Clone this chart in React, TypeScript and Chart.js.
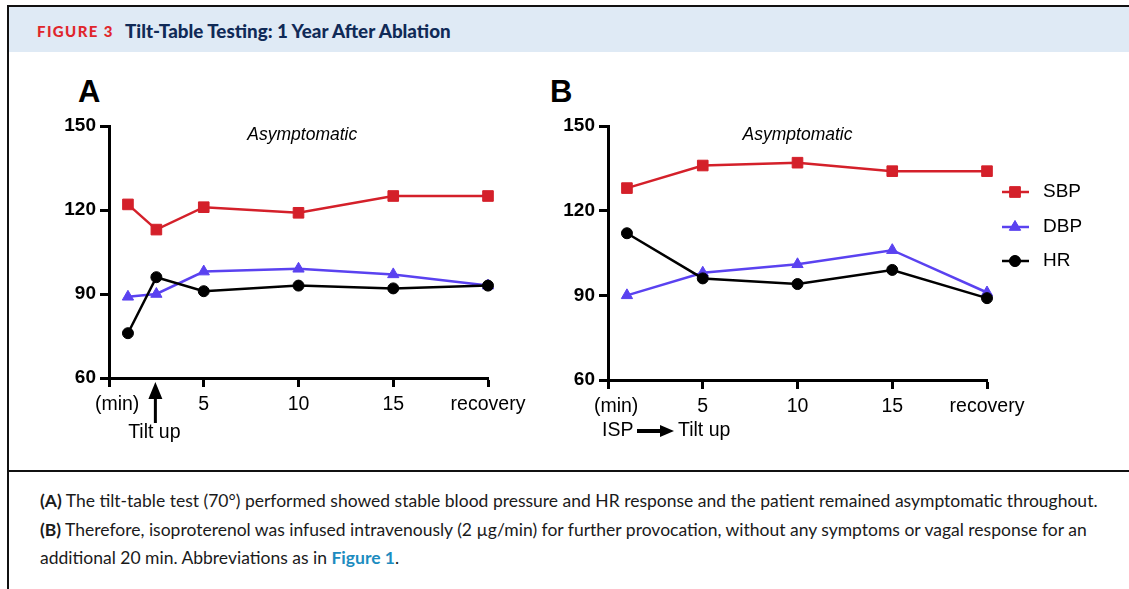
import React, { useEffect, useRef } from "react";
import { Chart, registerables } from "chart.js";
import { drawPoint } from "chart.js/helpers";

Chart.register(...registerables);

// ---------- data ----------
const minutesA = [1, 2.5, 5, 10, 15, 20];
const sbpA = [122, 113, 121, 119, 125, 125];
const dbpA = [89, 90, 98, 99, 97, 93];
const hrA = [76, 96, 91, 93, 92, 93];

const minutesB = [1, 5, 10, 15, 20];
const sbpB = [128, 136, 137, 134, 134];
const dbpB = [90, 98, 101, 106, 91];
const hrB = [112, 96, 94, 99, 89];

const xTickValues = [0, 5, 10, 15, 20];
const xTickLabels = ["   (min)", "5", "10", "15", "recovery"];
const yTickValues = [60, 90, 120, 150];

const seriesNames = ["SBP", "DBP", "HR"];
const seriesColors = ["#d4202a", "#5a42f0", "#000000"];
const pointStyles = ["rect", "triangle", "circle"];
const pointRadii = [7.5, 6.5, 5.5];

const FONT = "'Liberation Sans', Arial, Helvetica, sans-serif";
const CAPTION_FONT = "Lato, 'Open Sans', sans-serif";

function makeDatasets(xs: number[], series: number[][]) {
  return series.map((vals, i) => ({
    label: seriesNames[i],
    data: xs.map((x, j) => ({ x, y: vals[j] })),
    borderColor: seriesColors[i],
    backgroundColor: seriesColors[i],
    borderWidth: 2.5,
    pointStyle: pointStyles[i],
    pointRadius: pointRadii[i],
    pointBorderWidth: 1,
    clip: false,
    order: 2 - i,
    tension: 0,
  }));
}

function makeScales(yWidth: number, xHeight: number) {
  return {
    x: {
      type: "linear",
      min: 0,
      max: 20,
      afterBuildTicks: (s: any) => {
        s.ticks = xTickValues.map((v) => ({ value: v }));
      },
      ticks: {
        callback: (v: any) => xTickLabels[xTickValues.indexOf(Number(v))],
        color: "#000",
        font: { family: FONT, size: 19.5 },
        padding: 6,
        maxRotation: 0,
        autoSkip: false,
      },
      grid: {
        drawOnChartArea: false,
        drawTicks: true,
        tickLength: 9,
        tickWidth: 3,
        tickColor: "#000",
      },
      border: { display: true, width: 3, color: "#000" },
      afterFit: (s: any) => {
        s.height = xHeight;
      },
    },
    y: {
      type: "linear",
      min: 60,
      max: 150,
      afterBuildTicks: (s: any) => {
        s.ticks = yTickValues.map((v) => ({ value: v }));
      },
      ticks: {
        color: "#000",
        font: { family: FONT, size: 19, weight: "bold" },
        padding: 4,
      },
      grid: {
        drawOnChartArea: false,
        drawTicks: true,
        tickLength: 9,
        tickWidth: 3,
        tickColor: "#000",
      },
      border: { display: true, width: 3, color: "#000" },
      afterFit: (s: any) => {
        s.width = yWidth;
      },
    },
  };
}

function annotations(panel: "A" | "B") {
  return {
    id: "annot" + panel,
    afterDraw(chart: any) {
      const ctx = chart.ctx;
      const xs = chart.scales.x;
      const area = chart.chartArea;
      ctx.save();
      ctx.fillStyle = "#000";
      ctx.strokeStyle = "#000";
      ctx.textBaseline = "middle";
      // Asymptomatic
      ctx.font = `italic 17.5px ${FONT}`;
      ctx.textAlign = "center";
      ctx.fillText("Asymptomatic", xs.getPixelForValue(panel === "A" ? 10.2 : 10.0), area.top + 9);

      ctx.font = `19.5px ${FONT}`;
      if (panel === "A") {
        const ax = xs.getPixelForValue(2.5) - 1;
        const tip = area.bottom + 4;
        ctx.beginPath();
        ctx.moveTo(ax, tip);
        ctx.lineTo(ax - 7, tip + 17);
        ctx.lineTo(ax + 7, tip + 17);
        ctx.closePath();
        ctx.fill();
        ctx.fillRect(ax - 1.5, tip + 15, 3, 26);
        ctx.textAlign = "center";
        ctx.fillText("Tilt up", ax - 1, area.bottom + 55);
      } else {
        const y = area.bottom + 51;
        ctx.textAlign = "left";
        ctx.fillText("ISP", area.left - 6, y);
        const x0 = area.left + 29;
        ctx.fillRect(x0, y - 2, 26, 4);
        ctx.beginPath();
        ctx.moveTo(x0 + 23, y - 6);
        ctx.lineTo(x0 + 37, y);
        ctx.lineTo(x0 + 23, y + 6);
        ctx.closePath();
        ctx.fill();
        ctx.fillText("Tilt up", area.left + 70, y);

        // legend
        const ys = [area.top + 66, area.top + 101, area.top + 135];
        seriesNames.forEach((name, i) => {
          const y2 = ys[i];
          ctx.strokeStyle = seriesColors[i];
          ctx.fillStyle = seriesColors[i];
          ctx.lineWidth = 2.5;
          ctx.beginPath();
          ctx.moveTo(area.right + 15, y2);
          ctx.lineTo(area.right + 42, y2);
          ctx.stroke();
          ctx.lineWidth = 1;
          drawPoint(ctx, { pointStyle: pointStyles[i], radius: pointRadii[i], rotation: 0, borderWidth: 1 }, area.right + 28, y2);
          ctx.fill();
          ctx.fillStyle = "#000";
          ctx.font = `19px ${FONT}`;
          ctx.textAlign = "left";
          ctx.fillText(name, area.right + 56, y2);
        });
      }
      ctx.restore();
    },
  };
}

function Panel(props: {
  panel: "A" | "B";
  xs: number[];
  series: number[][];
  left: number;
  top: number;
  width: number;
  height: number;
  padding: any;
  yWidth: number;
  xHeight: number;
}) {
  const ref = useRef<HTMLCanvasElement | null>(null);
  useEffect(() => {
    if (!ref.current) return;
    const chart = new Chart(ref.current, {
      type: "line",
      data: { datasets: makeDatasets(props.xs, props.series) as any },
      options: {
        animation: false,
        responsive: false,
        maintainAspectRatio: false,
        layout: { padding: props.padding },
        plugins: { legend: { display: false }, tooltip: { enabled: false } },
        scales: makeScales(props.yWidth, props.xHeight) as any,
      },
      plugins: [annotations(props.panel)],
    });
    return () => chart.destroy();
  }, []);
  return (
    <canvas
      ref={ref}
      width={props.width}
      height={props.height}
      style={{ position: "absolute", left: props.left, top: props.top, width: props.width, height: props.height }}
    />
  );
}

export default function App() {
  return (
    <div style={{ position: "absolute", left: 0, top: 0, width: 1129, height: 589, background: "#fff", overflow: "hidden" }}>
      {/* frame */}
      <div style={{ position: "absolute", left: 7, top: 5, width: 1122, height: 2, background: "#111" }} />
      <div style={{ position: "absolute", left: 7, top: 5, width: 2, height: 584, background: "#111" }} />
      <div style={{ position: "absolute", left: 7, top: 470, width: 1122, height: 2, background: "#111" }} />
      {/* header */}
      <div style={{ position: "absolute", left: 9, top: 7, width: 1120, height: 45, background: "#dfeaf5" }} />
      <div
        style={{
          position: "absolute",
          left: 37,
          top: 21,
          fontFamily: CAPTION_FONT,
          fontWeight: 900,
          fontSize: 15,
          letterSpacing: 1.4,
          color: "#e0262c",
          lineHeight: "20px",
          whiteSpace: "nowrap",
        }}
      >
        FIGURE 3
      </div>
      <div
        style={{
          position: "absolute",
          left: 125,
          top: 19,
          fontFamily: CAPTION_FONT,
          fontWeight: 900,
          fontSize: 18.8,
          color: "#102a57",
          lineHeight: "24px",
          whiteSpace: "nowrap",
        }}
      >
        Tilt-Table Testing: 1 Year After Ablation
      </div>
      {/* panel letters */}
      <div style={{ position: "absolute", left: 78, top: 76, fontFamily: FONT, fontWeight: 700, fontSize: 31, lineHeight: "31px" }}>A</div>
      <div style={{ position: "absolute", left: 550, top: 76, fontFamily: FONT, fontWeight: 700, fontSize: 31, lineHeight: "31px" }}>B</div>

      <Panel
        panel="A"
        xs={minutesA}
        series={[sbpA, dbpA, hrA]}
        left={40}
        top={100}
        width={500}
        height={350}
        padding={{ left: 0, top: 26, right: 52, bottom: 0 }}
        yWidth={69}
        xHeight={72}
      />
      <Panel
        panel="B"
        xs={minutesB}
        series={[sbpB, dbpB, hrB]}
        left={540}
        top={100}
        width={589}
        height={350}
        padding={{ left: 0, top: 26, right: 142, bottom: 0 }}
        yWidth={68}
        xHeight={70}
      />

      {/* caption */}
      <div
        style={{
          position: "absolute",
          left: 40,
          top: 487,
          width: 1085,
          fontFamily: CAPTION_FONT,
          fontSize: 17.5,
          lineHeight: "28.5px",
          color: "#1a1a1a",
        }}
      >
        <div style={{ whiteSpace: "nowrap" }}>
          <b>(A)</b> The tilt-table test (70°) performed showed stable blood pressure and HR response and the patient remained asymptomatic throughout.
        </div>
        <div style={{ whiteSpace: "nowrap" }}>
          <b>(B)</b> Therefore, isoproterenol was infused intravenously (2 µg/min) for further provocation, without any symptoms or vagal response for an
        </div>
        <div style={{ whiteSpace: "nowrap" }}>
          additional 20 min. Abbreviations as in <b style={{ color: "#1c8cc0" }}>Figure 1</b>.
        </div>
      </div>
    </div>
  );
}
